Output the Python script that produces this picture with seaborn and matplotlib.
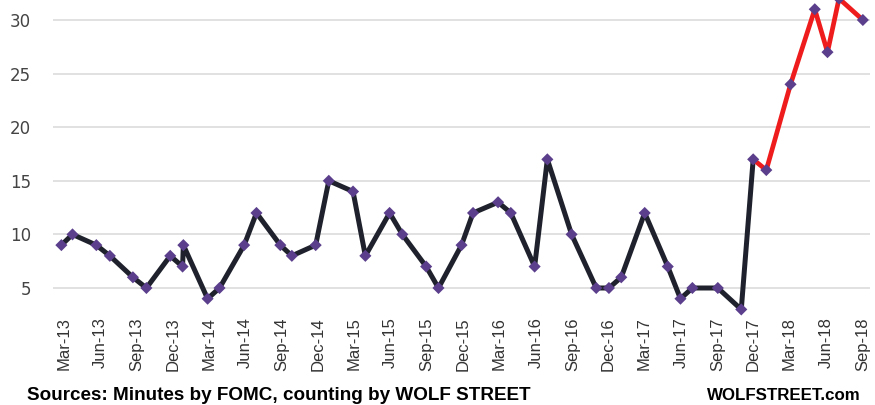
import pandas as pd
import matplotlib
matplotlib.use('Agg')
import matplotlib.pyplot as plt
import matplotlib.dates as mdates
import seaborn as sns

# Fechas de las minutas y conteo de menciones
fechas = [
    '2013-02-23', '2013-03-23', '2013-05-22', '2013-06-25', '2013-08-22', '2013-09-25',
    '2013-11-24', '2013-12-25', '2013-12-27', '2014-02-26', '2014-03-28', '2014-05-29',
    '2014-06-29', '2014-08-28', '2014-09-26', '2014-11-25', '2014-12-28', '2015-02-27',
    '2015-03-30', '2015-05-30', '2015-07-01', '2015-08-30', '2015-09-30', '2015-11-27',
    '2015-12-26', '2016-02-27', '2016-03-30', '2016-05-29', '2016-06-30', '2016-08-30',
    '2016-10-31', '2016-12-02', '2017-01-02', '2017-03-02', '2017-04-29', '2017-05-31',
    '2017-06-30', '2017-09-02', '2017-10-31', '2017-11-30', '2018-01-02', '2018-03-04',
    '2018-05-04', '2018-06-05', '2018-07-04', '2018-09-02',
]
menciones = [
    9, 10, 9, 8, 6, 5,
    8, 7, 9, 4, 5, 9,
    12, 9, 8, 9, 15, 14,
    8, 12, 10, 7, 5, 9,
    12, 13, 12, 7, 17, 10,
    5, 5, 6, 12, 7, 4,
    5, 5, 3, 17, 16, 24,
    31, 27, 32, 30,
]
# indice donde empieza el tramo rojo (ultima minuta de 2017)
inicio_rojo = 39

y_ticks = [5, 10, 15, 20, 25, 30]

df = pd.DataFrame({'fecha': pd.to_datetime(fechas), 'menciones': menciones})
negro = df.iloc[:inicio_rojo + 1]
rojo = df.iloc[inicio_rojo:]

sns.set_theme(style='white')
plt.rcParams['font.family'] = ['Liberation Sans', 'DejaVu Sans']

fig = plt.figure(figsize=(8.75, 4.05), dpi=100)
ax = fig.add_axes([0.0606, 0.2296, 0.9337, 0.8534])

sns.lineplot(data=negro, x='fecha', y='menciones', ax=ax, color='#1f222c',
             linewidth=3.6, zorder=3)
sns.lineplot(data=rojo, x='fecha', y='menciones', ax=ax, color='#ee1c1c',
             linewidth=3.4, zorder=3)
sns.scatterplot(data=df, x='fecha', y='menciones', ax=ax, marker='D', s=38,
                color='#5b3f8c', edgecolor='none', zorder=4, clip_on=False)

ax.set_xlim(pd.Timestamp('2013-02-02'), pd.Timestamp('2018-09-20'))
ax.set_ylim(2.76, 35)
ax.set_yticks(y_ticks)
ax.yaxis.grid(True, color='#d9d9d9', linewidth=1.1)
ax.axhline(35, color='#d9d9d9', linewidth=1.1, zorder=0)
ax.xaxis.grid(False)
for s in ax.spines.values():
    s.set_visible(False)

ax.xaxis.set_major_locator(mdates.MonthLocator(bymonth=[3, 6, 9, 12]))
ax.xaxis.set_major_formatter(mdates.DateFormatter('%b-%y'))
ax.tick_params(axis='x', length=0, pad=4, labelsize=12, labelcolor='#333333',
               labelrotation=90)
ax.tick_params(axis='y', length=0, pad=16, labelsize=12, labelcolor='#444444')
for lbl in ax.get_yticklabels():
    lbl.set_fontfamily('DejaVu Sans')
ax.set_xlabel('')
ax.set_ylabel('')

fig.text(0.031, 5 / 405, 'Sources: Minutes by FOMC, counting by WOLF STREET',
         fontsize=13.6, fontweight='bold', color='black', va='baseline', ha='left')
fig.text(0.983, 5 / 405, 'WOLFSTREET.com', fontsize=12.2, fontweight='bold',
         color='black', va='baseline', ha='right')

fig.savefig('out.png', dpi=100, facecolor='white')
